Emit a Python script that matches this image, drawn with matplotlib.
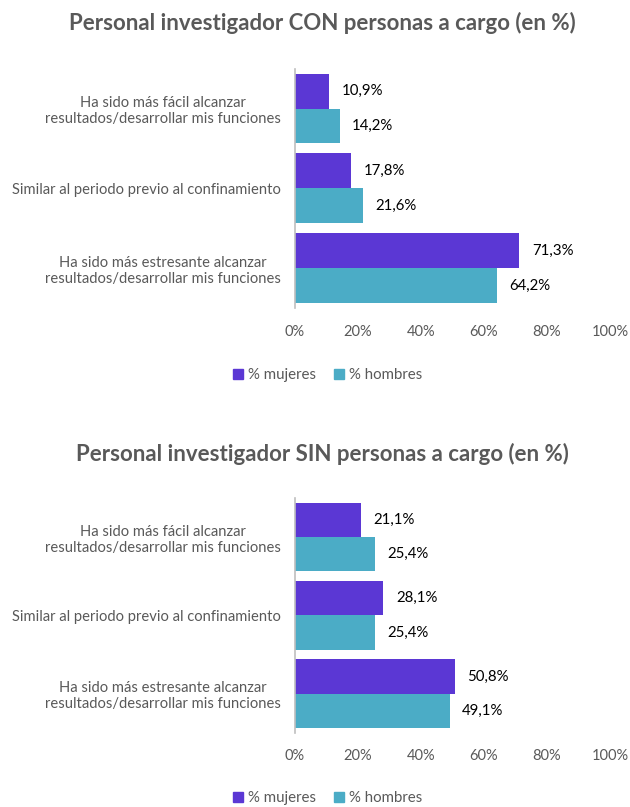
import numpy as np
import matplotlib.pyplot as plt
from matplotlib.patches import Patch

plt.rcParams['font.family'] = ['Lato', 'DejaVu Sans']

categories = ["Ha sido más fácil alcanzar\nresultados/desarrollar mis funciones",
              "Similar al periodo previo al confinamiento",
              "Ha sido más estresante alcanzar\nresultados/desarrollar mis funciones"]
series_names = ["% mujeres", "% hombres"]

titles = ["Personal investigador CON personas a cargo (en %)",
          "Personal investigador SIN personas a cargo (en %)"]

con_mujeres = [10.9, 17.8, 71.3]
con_hombres = [14.2, 21.6, 64.2]
sin_mujeres = [21.1, 28.1, 50.8]
sin_hombres = [25.4, 25.4, 49.1]

xticks = [0, 20, 40, 60, 80, 100]

c_muj = '#5B37D4'
c_hom = '#4BACC6'
gray = '#595959'

fig = plt.figure(figsize=(6.3, 8.07), dpi=100)

rects = [[0.468, 0.618, 0.5, 0.297],
         [0.468, 0.092, 0.5, 0.291]]
title_y = [0.972, 0.437]
legend_y = [0.535, 0.011]

h = 0.4375
y = np.arange(len(categories))

for k, (muj, hom) in enumerate([(con_mujeres, con_hombres), (sin_mujeres, sin_hombres)]):
    ax = fig.add_axes(rects[k])
    ax.barh(y - h/2, muj, height=h, color=c_muj)
    ax.barh(y + h/2, hom, height=h, color=c_hom)

    for yy, v in zip(y - h/2, muj):
        ax.annotate(f"{v:.1f}%".replace('.', ','), (v, yy), xytext=(9, 0),
                    textcoords='offset points', ha='left', va='center',
                    fontsize=10.8, color='black')
    for yy, v in zip(y + h/2, hom):
        ax.annotate(f"{v:.1f}%".replace('.', ','), (v, yy), xytext=(9, 0),
                    textcoords='offset points', ha='left', va='center',
                    fontsize=10.8, color='black')

    ax.set_xlim(0, 100)
    ax.set_ylim(2.5, -0.5)
    ax.set_xticks(xticks)
    ax.set_xticklabels([f"{t}%" for t in xticks])
    ax.set_yticks(y)
    ax.set_yticklabels(categories, multialignment='center')
    ax.tick_params(axis='x', length=0, pad=12, labelsize=10.5, labelcolor=gray)
    ax.tick_params(axis='y', length=0, pad=10, labelsize=10.6, labelcolor=gray)
    for s in ['top', 'right', 'bottom']:
        ax.spines[s].set_visible(False)
    ax.spines['left'].set_color('#BFBFBF')
    ax.spines['left'].set_linewidth(1.2)

    fig.text(0.512, title_y[k], titles[k], ha='center', va='center',
             fontsize=16, fontweight='bold', color=gray)

    handles = [Patch(color=c_muj, label=series_names[0]),
               Patch(color=c_hom, label=series_names[1])]
    fig.legend(handles=handles, loc='center', bbox_to_anchor=(0.52, legend_y[k]),
               ncol=2, frameon=False, fontsize=10.8, handlelength=0.7,
               handleheight=0.7, handletextpad=0.3, columnspacing=1.2,
               labelcolor=gray)

fig.savefig('out.png', dpi=100)
